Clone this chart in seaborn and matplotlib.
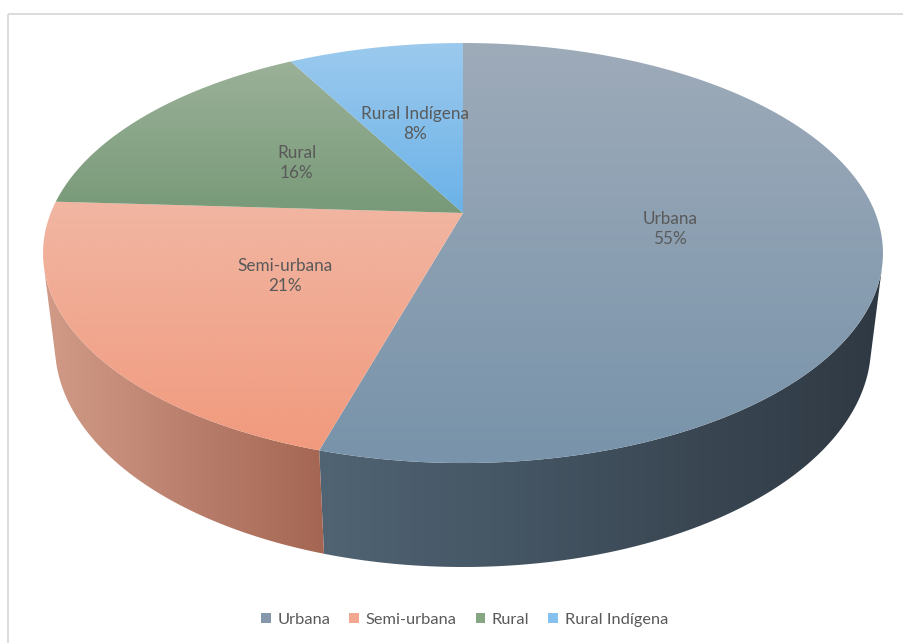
import numpy as np
import matplotlib.pyplot as plt
from matplotlib.patches import Polygon, Patch, Rectangle
import seaborn as sns

# Data
categories = ['Urbana', 'Semi-urbana', 'Rural', 'Rural Indígena']
shares = [54.6, 21.3, 16.0, 8.1]
pct_labels = ['55%', '21%', '16%', '8%']

# colours (top face light->dark, side wall light->dark, legend swatch)
top_colors = [('#9eabb9', '#7893aa'), ('#f1b6a2', '#f19a7e'),
              ('#9bb199', '#789a78'), ('#9ccaee', '#6bb2e8')]
side_colors = [('#506474', '#2f3943'), ('#d19b88', '#a46653'),
               ('#7a987a', '#5a765a'), ('#6aa8d8', '#4f86b0')]
legend_colors = ['#8597ab', '#f2a88e', '#85a583', '#85c1ee']

sns.set_style('white')
plt.rcParams['font.family'] = ['Lato', 'DejaVu Sans']

# -----------------------------
# simple perspective camera for the 3d pie
# -----------------------------
PHI = np.radians(29.4)
DIST = 4.57
FOCAL = 1884
CX, CY = 463, 213
THICK = 0.262
W, H = 904, 643


def project(a_deg, r=1.0, z=0.0):
    # a_deg measured clockwise from the back of the pie
    a = np.radians(a_deg)
    x = r * np.sin(a)
    y = r * np.cos(a)
    d = DIST + y * np.cos(PHI) - z * np.sin(PHI)
    sx = CX + FOCAL * x / d
    sy = CY - FOCAL * (y * np.sin(PHI) + z * np.cos(PHI)) / d
    return np.column_stack([np.atleast_1d(sx), np.atleast_1d(sy)])


def gradient_fill(ax, verts, c0, c1, horizontal, zorder):
    poly = Polygon(verts, closed=True, facecolor='none', edgecolor='none')
    ax.add_patch(poly)
    cols = np.array(sns.blend_palette([c0, c1], n_colors=256))
    img = cols[np.newaxis, :, :] if horizontal else cols[:, np.newaxis, :]
    x0, x1 = verts[:, 0].min(), verts[:, 0].max()
    y0, y1 = verts[:, 1].min(), verts[:, 1].max()
    im = ax.imshow(img, extent=(x0, x1, y1, y0), aspect='auto',
                   interpolation='bilinear', zorder=zorder)
    im.set_clip_path(poly)


fig = plt.figure(figsize=(W / 100, H / 100), dpi=100)
ax = fig.add_axes([0, 0, 1, 1])
ax.axis('off')

# angles of each slice
bounds = np.concatenate([[0], np.cumsum(shares)]) / 100 * 360
vis_lo = np.degrees(np.arccos(-1 / (DIST * np.cos(PHI))))
vis_hi = 360 - vis_lo

# side walls (only the part facing the viewer)
for i in range(len(categories)):
    lo = max(bounds[i], vis_lo)
    hi = min(bounds[i + 1], vis_hi)
    if hi <= lo:
        continue
    arc = np.linspace(lo, hi, 200)
    top = project(arc, 1.0, 0.0)
    bot = project(arc[::-1], 1.0, -THICK)
    gradient_fill(ax, np.vstack([top, bot]), side_colors[i][0],
                  side_colors[i][1], True, 1)

# top faces
for i in range(len(categories)):
    arc = np.linspace(bounds[i], bounds[i + 1], 300)
    verts = np.vstack([project(0, 0.0), project(arc)])
    gradient_fill(ax, verts, top_colors[i][0], top_colors[i][1], False, 2)

# data labels at half radius
for i, cat in enumerate(categories):
    mid = (bounds[i] + bounds[i + 1]) / 2
    lx, ly = project(mid, 0.5)[0]
    ax.text(lx, ly + 1, f'{cat}\n{pct_labels[i]}', ha='center', va='center',
            color='#595959', fontsize=12.3, linespacing=1.3, zorder=5)

# chart area border
ax.add_patch(Rectangle((8.5, 13.5), W, H, fill=False, edgecolor='#d9d9d9',
                       linewidth=1.3, zorder=0))

ax.set_xlim(0, W)
ax.set_ylim(H, 0)

handles = [Patch(facecolor=c, edgecolor='none') for c in legend_colors]
fig.legend(handles, categories, loc='center', bbox_to_anchor=(0.514, 0.036),
           ncol=4, frameon=False, fontsize=11.8, labelcolor='#595959',
           handlelength=0.6, handleheight=0.6, handletextpad=0.4,
           columnspacing=1.15)

plt.savefig('out.png', dpi=100)
